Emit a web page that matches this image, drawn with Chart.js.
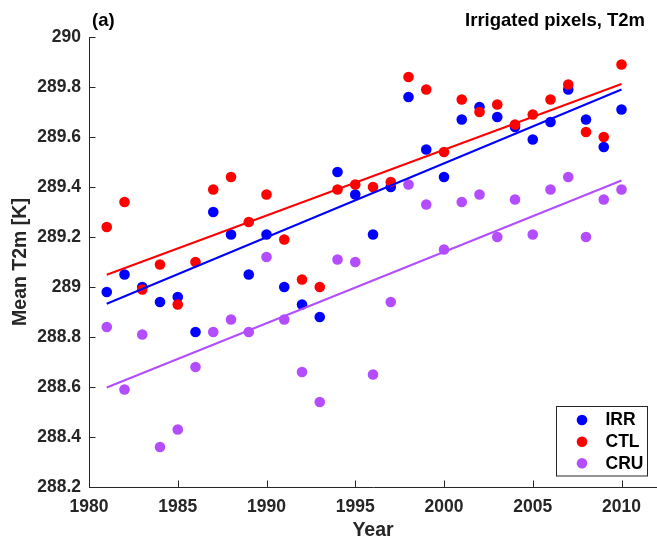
<!DOCTYPE html>
<html>
<head>
<meta charset="utf-8">
<script src="https://cdn.jsdelivr.net/npm/chart.js@4/dist/chart.umd.min.js"></script>
<style>
  html, body { margin: 0; padding: 0; background: #fff; }
  #wrap { width: 657px; height: 542px; position: relative; }
</style>
</head>
<body>
<div id="wrap"><canvas id="c" width="657" height="542"></canvas></div>
<script>
const years = [1981,1982,1983,1984,1985,1986,1987,1988,1989,1990,1991,1992,1993,1994,1995,1996,1997,1998,1999,2000,2001,2002,2003,2004,2005,2006,2007,2008,2009,2010];
const irr = [288.98,289.05,289.00,288.94,288.96,288.82,289.30,289.21,289.05,289.21,289.00,288.93,288.88,289.46,289.37,289.21,289.40,289.76,289.55,289.44,289.67,289.72,289.68,289.64,289.59,289.66,289.79,289.67,289.56,289.71];
const ctl = [289.24,289.34,288.99,289.09,288.93,289.10,289.39,289.44,289.26,289.37,289.19,289.03,289.00,289.39,289.41,289.40,289.42,289.84,289.79,289.54,289.75,289.70,289.73,289.65,289.69,289.75,289.81,289.62,289.60,289.89];
const cru = [288.84,288.59,288.81,288.36,288.43,288.68,288.82,288.87,288.82,289.12,288.87,288.66,288.54,289.11,289.10,288.65,288.94,289.41,289.33,289.15,289.34,289.37,289.20,289.35,289.21,289.39,289.44,289.20,289.35,289.39];
// trend lines (start 1981, end 2010)
const trendYears = [1981, 2010];
const irrTrend = [288.933, 289.790];
const ctlTrend = [289.049, 289.812];
const cruTrend = [288.598, 289.426];
const seriesNames = ["IRR","CTL","CRU"];
const xTicks = [1980,1985,1990,1995,2000,2005,2010];
const yTicks = [288.2,288.4,288.6,288.8,289,289.2,289.4,289.6,289.8,290];
const titleLeft = "(a)";
const titleRight = "Irrigated pixels, T2m";
const xTitle = "Year";
const yTitle = "Mean T2m [K]";

const COLORS = { IRR: "#0000ff", CTL: "#ff0000", CRU: "#b34dff" };
const TXT = "#262626";
const FONT = "'Liberation Sans', Arial, Helvetica, sans-serif";

function pts(xs, vals) { return xs.map((x, i) => ({ x: x, y: vals[i] })); }

const seriesVals = { IRR: irr, CTL: ctl, CRU: cru };
const trendVals = { IRR: irrTrend, CTL: ctlTrend, CRU: cruTrend };

const datasets = [];
seriesNames.forEach((nm) => {
  datasets.push({
    type: 'line', label: nm + ' trend', data: pts(trendYears, trendVals[nm]),
    borderColor: COLORS[nm], borderWidth: 2, pointRadius: 0, showLine: true,
    fill: false, order: 0
  });
});
[["CRU",3],["IRR",2],["CTL",1]].forEach(([nm, ord]) => {
  datasets.push({
    type: 'scatter', label: nm, data: pts(years, seriesVals[nm]),
    backgroundColor: COLORS[nm], borderColor: COLORS[nm], borderWidth: 0,
    pointRadius: 5.3, pointHoverRadius: 5.3, order: ord
  });
});

const extras = {
  id: 'extras',
  afterDraw(chart) {
    const ctx = chart.ctx;
    const ca = chart.chartArea;
    const xs = chart.scales.x, ys = chart.scales.y;
    ctx.save();
    ctx.strokeStyle = TXT; ctx.lineWidth = 1;
    ctx.beginPath();
    yTicks.forEach(v => {
      const py = Math.round(ys.getPixelForValue(v)) + 0.5;
      ctx.moveTo(ca.left, py); ctx.lineTo(ca.left + 6.5, py);
    });
    xTicks.forEach(v => {
      const px = Math.round(xs.getPixelForValue(v)) + 0.5;
      ctx.moveTo(px, ca.bottom); ctx.lineTo(px, ca.bottom - 6.5);
    });
    ctx.stroke();
    ctx.fillStyle = "#000";
    ctx.font = "bold 18.5px " + FONT;
    ctx.textBaseline = "middle";
    ctx.textAlign = "left";
    ctx.fillText(titleLeft, 92, 21);
    ctx.textAlign = "right";
    ctx.fillText(titleRight, 645, 21);
    const lx = 556.5, ly = 406.5, lw = 91, lh = 69.5;
    ctx.fillStyle = "#fff";
    ctx.fillRect(lx, ly, lw, lh);
    ctx.strokeStyle = TXT; ctx.lineWidth = 1;
    ctx.strokeRect(lx, ly, lw, lh);
    const rows = [420, 441.7, 463.3];
    ctx.font = "bold 17.5px " + FONT;
    ctx.textAlign = "left";
    seriesNames.forEach((nm, i) => {
      ctx.fillStyle = COLORS[nm];
      ctx.beginPath(); ctx.arc(582, rows[i], 5.3, 0, Math.PI * 2); ctx.fill();
      ctx.fillStyle = "#000";
      ctx.fillText(nm, 605.5, rows[i] + 0.5);
    });
    ctx.restore();
  }
};

new Chart(document.getElementById('c'), {
  data: { datasets },
  options: {
    responsive: false, animation: false,
    layout: { autoPadding: false, padding: { top: 37, right: 0, left: 0, bottom: 0 } },
    plugins: { legend: { display: false }, tooltip: { enabled: false } },
    scales: {
      x: {
        type: 'linear', min: 1980, max: 2012,
        afterFit: s => { s.height = 55; s.paddingRight = 0; s.paddingLeft = 0; },
        afterBuildTicks: s => { s.ticks = xTicks.map(v => ({ value: v })); },
        grid: { drawOnChartArea: false, drawTicks: false },
        border: { display: true, color: TXT, width: 1 },
        ticks: { color: TXT, font: { family: FONT, size: 17.5, weight: 'bold' }, padding: 10, maxRotation: 0,
                 callback: v => String(v) },
        title: { display: true, text: xTitle, color: TXT, font: { family: FONT, size: 19.5, weight: 'bold' }, padding: { top: 0, bottom: 0 } }
      },
      y: {
        type: 'linear', min: 288.2, max: 290,
        afterFit: s => { s.width = 89; s.paddingTop = 0; s.paddingBottom = 0; },
        afterBuildTicks: s => { s.ticks = yTicks.map(v => ({ value: v })); },
        grid: { drawOnChartArea: false, drawTicks: false },
        border: { display: true, color: TXT, width: 1 },
        ticks: { color: TXT, font: { family: FONT, size: 17.5, weight: 'bold' }, padding: 8,
                 callback: v => String(Number(v.toFixed(1))) },
        title: { display: true, text: yTitle, color: TXT, font: { family: FONT, size: 19.5, weight: 'bold' }, padding: { top: 9, bottom: 0 } }
      }
    }
  },
  plugins: [extras]
});
</script>
</body>
</html>
